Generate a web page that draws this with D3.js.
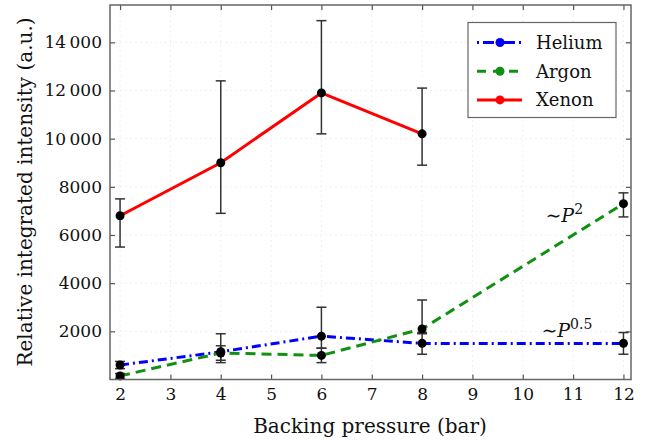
<!DOCTYPE html>
<html>
<head>
<meta charset="utf-8">
<script src="https://cdn.jsdelivr.net/npm/d3@7"></script>
<style>
  body { margin: 0; background: #fff; }
</style>
</head>
<body>
<div id="chart"></div>
<script>
// data
var pressures = [2, 4, 6, 8, 12];
var heliumValues = [600, 1150, 1800, 1500, 1500];
var heliumLow = [450, 700, 1300, 1050, 1050];
var heliumHigh = [750, 1900, 3000, 1950, 1950];

var argonValues = [150, 1100, 1000, 2100, 7300];
var argonLow = [50, 800, 700, 1900, 6750];
var argonHigh = [250, 1400, 1300, 3300, 7750];

var xenonPressures = [2, 4, 6, 8];
var xenonValues = [6800, 9000, 11900, 10200];
var xenonLow = [5500, 6900, 10200, 8900];
var xenonHigh = [7500, 12400, 14900, 12100];

var xTicks = [2, 3, 4, 5, 6, 7, 8, 9, 10, 11, 12];
var yTicks = [2000, 4000, 6000, 8000, 10000, 12000, 14000];
var seriesNames = ["Helium", "Argon", "Xenon"];

var serif = "'DejaVu Serif'";

var svgWidth = 647;
var svgHeight = 441;
var margin = { top: 5, right: 16, bottom: 61.5, left: 110 };
var width = svgWidth - margin.left - margin.right;
var height = svgHeight - margin.top - margin.bottom;

var svg = d3.select("#chart")
  .append("svg")
  .attr("width", svgWidth)
  .attr("height", svgHeight)
  .style("font-family", serif);

var chartGroup = svg.append("g")
  .attr("transform", `translate(${margin.left}, ${margin.top})`);

var xScale = d3.scaleLinear().domain([1.8, 12.15]).range([0, width]);
var yScale = d3.scaleLinear().domain([0, 15550]).range([height, 0]);

// faint grid
chartGroup.append("g").selectAll("line.vg")
  .data(xTicks).enter().append("line")
  .attr("x1", d => xScale(d)).attr("x2", d => xScale(d))
  .attr("y1", 0).attr("y2", height)
  .attr("stroke", "#f0f0f0").attr("stroke-dasharray", "2,3");
chartGroup.append("g").selectAll("line.hg")
  .data(yTicks).enter().append("line")
  .attr("x1", 0).attr("x2", width)
  .attr("y1", d => yScale(d)).attr("y2", d => yScale(d))
  .attr("stroke", "#f0f0f0").attr("stroke-dasharray", "2,3");

function fmtY(d) {
  return d >= 10000 ? Math.floor(d / 1000) + "\u2009" + "000" : String(d);
}

// axes with inward ticks
var bottomAxis = d3.axisBottom(xScale).tickValues(xTicks).tickSizeInner(-5).tickSizeOuter(0).tickPadding(8);
var leftAxis = d3.axisLeft(yScale).tickValues(yTicks).tickSizeInner(-5).tickSizeOuter(0).tickPadding(8).tickFormat(fmtY);
var topAxis = d3.axisTop(xScale).tickValues(xTicks).tickSizeInner(-5).tickSizeOuter(0).tickFormat("");
var rightAxis = d3.axisRight(yScale).tickValues(yTicks).tickSizeInner(-5).tickSizeOuter(0).tickFormat("");

var xAxis = chartGroup.append("g").attr("transform", `translate(0, ${height})`).call(bottomAxis);
var yAxis = chartGroup.append("g").call(leftAxis);
var tAxis = chartGroup.append("g").call(topAxis);
var rAxis = chartGroup.append("g").attr("transform", `translate(${width}, 0)`).call(rightAxis);

[xAxis, yAxis, tAxis, rAxis].forEach(function(a) {
  a.attr("font-family", serif).attr("font-size", 17);
  a.select(".domain").remove();
  a.selectAll(".tick line").attr("stroke", "#555").attr("stroke-width", 1.2);
  a.selectAll("text").attr("fill", "#111");
});

function seriesData(xs, vals, lo, hi) {
  return xs.map((x, i) => ({ x: x, v: vals[i], lo: lo[i], hi: hi[i] }));
}

var series = [
  { name: "Helium", color: "#0000ff", dash: "9,4,2,4", data: seriesData(pressures, heliumValues, heliumLow, heliumHigh) },
  { name: "Argon", color: "#119011", dash: "10,6", data: seriesData(pressures, argonValues, argonLow, argonHigh) },
  { name: "Xenon", color: "#ff0000", dash: null, data: seriesData(xenonPressures, xenonValues, xenonLow, xenonHigh) }
];

var line = d3.line().x(d => xScale(d.x)).y(d => yScale(d.v));

var plotArea = chartGroup.append("g");

series.forEach(function(s) {
  plotArea.append("path")
    .datum(s.data)
    .attr("d", line)
    .attr("fill", "none")
    .attr("stroke", s.color)
    .attr("stroke-width", 3)
    .attr("stroke-dasharray", s.dash);
});

// error bars
series.forEach(function(s) {
  var eb = plotArea.append("g").selectAll("g").data(s.data).enter().append("g")
    .attr("stroke", "#333").attr("stroke-width", 1.5);
  eb.append("line")
    .attr("x1", d => xScale(d.x)).attr("x2", d => xScale(d.x))
    .attr("y1", d => yScale(d.lo)).attr("y2", d => yScale(d.hi));
  eb.append("line")
    .attr("x1", d => xScale(d.x) - 5).attr("x2", d => xScale(d.x) + 5)
    .attr("y1", d => yScale(d.lo)).attr("y2", d => yScale(d.lo));
  eb.append("line")
    .attr("x1", d => xScale(d.x) - 5).attr("x2", d => xScale(d.x) + 5)
    .attr("y1", d => yScale(d.hi)).attr("y2", d => yScale(d.hi));
});

series.forEach(function(s) {
  plotArea.append("g").selectAll("circle").data(s.data).enter().append("circle")
    .attr("cx", d => xScale(d.x)).attr("cy", d => yScale(d.v))
    .attr("r", 4.5).attr("fill", "#000");
});

// frame
chartGroup.append("rect")
  .attr("width", width).attr("height", height)
  .attr("fill", "none").attr("stroke", "#666").attr("stroke-width", 1.5);

// annotations
function annotate(xv, yv, sup) {
  var t = chartGroup.append("text")
    .attr("x", xScale(xv)).attr("y", yScale(yv))
    .attr("fill", "#111")
    .style("font-size", "19px");
  t.append("tspan").text("\u223C");
  t.append("tspan").style("font-style", "italic").text("P");
  t.append("tspan").attr("dy", -8).style("font-size", "14px").text(sup);
}
annotate(10.45, 6550, "2");
annotate(10.37, 1750, "0.5");

// legend
var legend = chartGroup.append("g").attr("transform", `translate(${468 - margin.left}, ${22.5 - margin.top})`);
legend.append("rect")
  .attr("width", 148).attr("height", 95)
  .attr("fill", "#fff").attr("stroke", "#666").attr("stroke-width", 1.2);
series.forEach(function(s, i) {
  var ly = 20 + i * 28.7;
  legend.append("line")
    .attr("x1", 9).attr("x2", 54).attr("y1", ly).attr("y2", ly)
    .attr("stroke", s.color).attr("stroke-width", 3)
    .attr("stroke-dasharray", s.name === "Helium" ? "2,4,11,4" : s.name === "Argon" ? "9,7" : null);
  legend.append("circle").attr("cx", 32).attr("cy", ly).attr("r", 4.5).attr("fill", s.color);
  legend.append("text").attr("x", 68).attr("y", ly).attr("dy", "0.35em")
    .attr("fill", "#111")
    .style("font-size", "18px").text(seriesNames[i]);
});

// axis titles
svg.append("text")
  .attr("x", 370).attr("y", 433)
  .attr("text-anchor", "middle")
  .attr("fill", "#111")
  .style("font-size", "20px")
  .text("Backing pressure (bar)");

svg.append("text")
  .attr("transform", "rotate(-90)")
  .attr("x", -192).attr("y", 32)
  .attr("text-anchor", "middle")
  .attr("fill", "#111")
  .style("font-size", "20px")
  .text("Relative integrated intensity (a.u.)");
</script>
</body>
</html>
